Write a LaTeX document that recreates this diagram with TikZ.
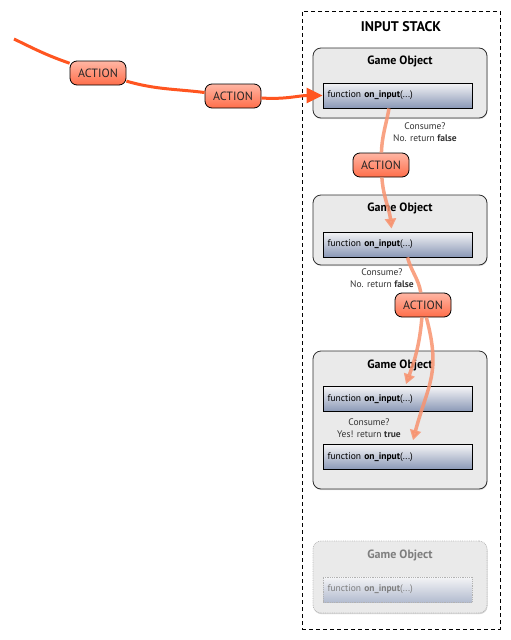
\documentclass[tikz,border=0pt]{standalone}
\usepackage{fontspec}
\setmainfont{PT Sans}
\setsansfont{PT Sans}
\usepackage{tikz}
\usetikzlibrary{positioning, arrows.meta, shadows}
\definecolor{act-top}{HTML}{FFB6A4}
\definecolor{act-mid}{HTML}{FFC6B6}
\definecolor{act-bot}{HTML}{FF6E4A}
\definecolor{act-line}{HTML}{FF5520}
\definecolor{act-flow}{HTML}{F8936F}
\definecolor{go-fill}{HTML}{EAEAEA}
\definecolor{go-edge}{HTML}{2E2E2E}
\definecolor{fn-top}{HTML}{F4F4F6}
\definecolor{fn-bot}{HTML}{8A98B6}
\definecolor{ghost}{HTML}{7E7E7E}

\begin{document}
\begin{tikzpicture}[
    x=1pt, y=-1pt,
    stackbox/.style={draw, dash pattern=on 4pt off 3pt, line width=0.7pt, minimum width=198pt, minimum height=618pt, inner sep=0pt},
    gobox/.style={draw=go-edge, fill=go-fill, line width=0.8pt, rounded corners=8pt, minimum width=174pt, inner sep=0pt,
        drop shadow={shadow xshift=0.5pt, shadow yshift=-1.2pt, opacity=0.25}},
    gotitle/.style={font=\fontsize{12}{14}\selectfont\bfseries},
    fnbox/.style={draw=black, line width=0.8pt, top color=fn-top, bottom color=fn-bot, minimum height=25pt,
        text width=140pt, inner xsep=4.5pt, inner ysep=0pt, align=left, font=\fontsize{9.5}{11}\selectfont},
    actbox/.style={draw=black, line width=0.8pt, rounded corners=7pt, top color=act-top, middle color=act-mid, bottom color=act-bot,
        minimum width=56pt, minimum height=24pt, inner sep=0pt, font=\fontsize{12}{14}\selectfont, text=black!85},
    note/.style={align=center, font=\fontsize{9.5}{12}\selectfont, text=black!80},
    feed/.style={act-line, line width=3pt},
    flow/.style={act-flow, line width=3.5pt, opacity=0.85},
]
    \useasboundingbox (0,0) rectangle (511,640);

    % Stack outline
    \node[stackbox] (stack) at (401,320) {};
    \node[font=\fontsize{14}{16}\selectfont\bfseries] (stacktitle) at (401,27) {INPUT STACK};

    % Game objects
    \node[gobox, minimum height=70pt] (go1) at (400,83) {};
    \node[gotitle] (go1t) at (400,61) {Game Object};
    \node[fnbox] (fn1) at (397.5,95.5) {function \textbf{on\_input}(...)};

    \node[gobox, minimum height=70pt] (go2) at (400,230) {};
    \node[gotitle] (go2t) at (400,208) {Game Object};
    \node[fnbox] (fn2) at (397.5,244.5) {function \textbf{on\_input}(...)};

    \node[gobox, minimum height=138pt] (go3) at (400,420) {};
    \node[gotitle] (go3t) at (400,365) {Game Object};
    \node[fnbox] (fn3a) at (397.5,399) {function \textbf{on\_input}(...)};
    \node[fnbox] (fn3b) at (397.5,457) {function \textbf{on\_input}(...)};

    % Not reached
    \node[gobox, minimum height=72pt, draw=gray!55, densely dotted, drop shadow={shadow xshift=0.5pt, shadow yshift=-1pt, opacity=0.12}] (go4) at (400,577) {};
    \node[gotitle, text=ghost] (go4t) at (400,555) {Game Object};
    \node[fnbox, draw=gray!60, densely dotted, bottom color=fn-bot!65!white, text=ghost] (fn4) at (397.5,589.5) {function \textbf{on\_input}(...)};

    % Replies
    \node[note] (ask1) at (425,132) {Consume?\\No. return \textbf{false}};
    \node[note] (ask2) at (382,278) {Consume?\\No. return \textbf{false}};
    \node[note] (ask3) at (369,428) {Consume?\\Yes! return \textbf{true}};

    % Actions
    \node[actbox] (act1) at (98,73) {ACTION};
    \node[actbox] (act2) at (233,96) {ACTION};
    \node[actbox] (act3) at (381,165) {ACTION};
    \node[actbox] (act4) at (423,305) {ACTION};

    % Incoming action
    \coordinate (src) at (14,39);
    \draw[feed] (src) to[out=-26, in=161] (act1);
    \draw[feed] (act1) to[out=-16, in=173] (act2);
    \draw[feed, -{Triangle[length=16pt, width=15pt]}] (act2) to[out=-4, in=180] (fn1.west);

    % Passing down the stack
    \draw[flow] ([xshift=-8.5pt]fn1.south) to[out=-100, in=88] (act3);
    \draw[flow, -{Triangle[length=10pt, width=11pt]}] (act3) to[out=-86, in=96] ([xshift=-6pt, yshift=3pt]fn2.north);
    \draw[flow] ([xshift=10pt]fn2.south) to[out=-75, in=100] (act4);
    \draw[flow, -{Triangle[length=10pt, width=11pt]}] (act4) to[out=-95, in=70] ([xshift=8.5pt, yshift=2pt]fn3a.north);
    \draw[flow, -{Triangle[length=10pt, width=11pt]}] (act4) to[out=-75, in=75, looseness=1.2] ([xshift=15.5pt, yshift=4pt]fn3b.north);
\end{tikzpicture}
\end{document}
